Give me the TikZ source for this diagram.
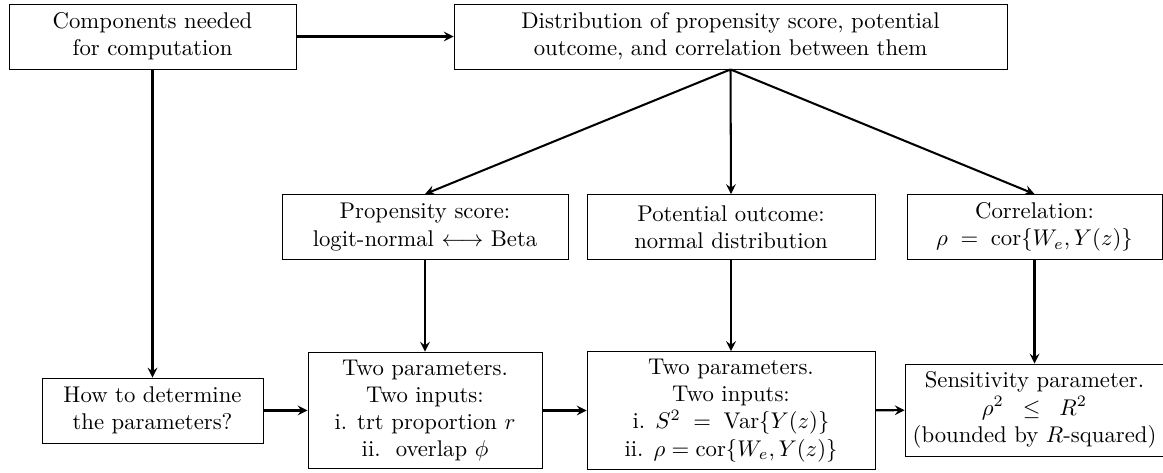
\documentclass[tikz,border=0pt]{standalone}
\usepackage{amsmath}
\begin{document}
\begin{tikzpicture}[x=0.44pt, y=-0.44pt,
    box/.style={draw, align=center, minimum height=28.6pt},
    tallbox/.style={box, minimum height=50.6pt},
    link/.style={line width=0.9pt, -stealth}]
    \useasboundingbox (0, 0) rectangle (1163, 473);
        \node[box, minimum width=126.3pt] (comp) at (152.5, 36.5) {Components needed\\for computation};
        \node[box, minimum width=243.3pt] (dist) at (730.5, 36.5) {Distribution of propensity score, potential\\outcome, and correlation between them};
        \node[box, minimum width=125.8pt] (prop) at (425, 227) {Propensity score:\\logit-normal $\longleftrightarrow$ Beta};
        \node[box, minimum width=126.7pt] (pot) at (731, 227) {Potential outcome:\\normal distribution};
        \node[box, minimum width=112.2pt] (corr) at (1034.5, 227) {Correlation:\\$\rho\;=\;\operatorname{cor}\{W_e, Y(z)\}$};
        \node[box, minimum width=97.2pt] (how) at (152.5, 410.5) {How to determine\\the parameters?};
        \node[tallbox, minimum width=103pt] (twoa) at (425, 410.5) {Two parameters.\\Two inputs:\\i. trt proportion $r$\\ii.\ \ overlap $\phi$};
        \node[tallbox, minimum width=126.7pt] (twob) at (731, 410.5) {Two parameters.\\Two inputs:\\i. $S^2\;=\;\operatorname{Var}\{Y(z)\}$\\ii. $\rho = \operatorname{cor}\{W_e, Y(z)\}$};
        \node[box, minimum width=112.2pt, minimum height=40.5pt] (sens) at (1034.5, 410) {Sensitivity parameter.\\$\rho^2\;\;\leq\;\;R^2$\\(bounded by $R$-squared)};
        \draw[link] (comp) -- (dist);
        \draw[link] (comp) -- (how);        %
        \draw[link] (dist.south) -- (prop.north);
        \draw[link] (dist.south) -- (pot.north);
        \draw[link] (dist.south) -- (corr.north);        %
        \draw[link] (prop) -- (twoa);
        \draw[link] (pot) -- (twob);
        \draw[link] (corr) -- (sens);        %
        \draw[link] (how) -- (twoa);
        \draw[link] (twoa) -- (twob);
        \draw[link] (twob) -- (sens);
    \end{tikzpicture}
\end{document}
